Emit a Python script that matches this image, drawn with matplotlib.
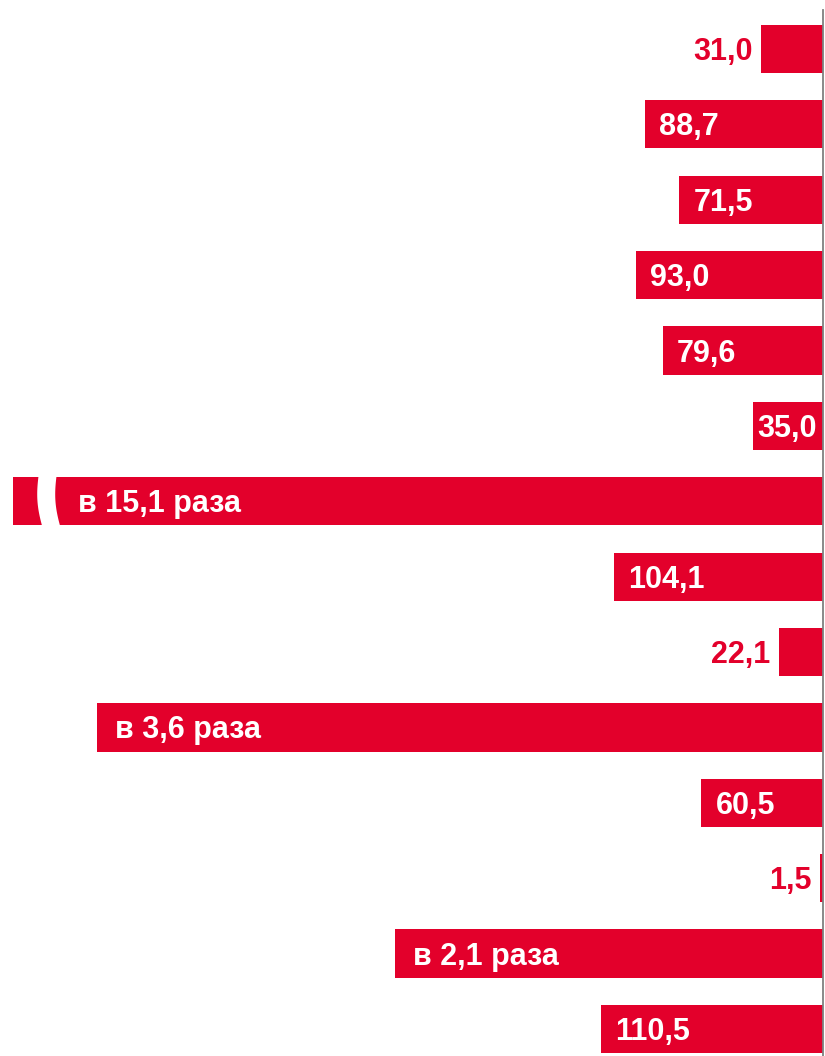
import numpy as np
import matplotlib
matplotlib.use("Agg")
import matplotlib.pyplot as plt

# Data: percent values (ratios shown as "в X раза" when >= 200 %)
values = [31.0, 88.7, 71.5, 93.0, 79.6, 35.0, 1510.0, 104.1, 22.1, 361.0, 60.5, 1.5, 213.0, 110.5]

RED = "#E3002B"
AXIS_GRAY = "#808080"

plt.rcParams['font.family'] = ['Liberation Sans', 'DejaVu Sans']

def fmt(v):
    if v >= 200:
        return "в " + f"{v/100:.1f}".replace(".", ",") + " раза"
    return f"{v:.1f}".replace(".", ",")

fig = plt.figure(figsize=(8.25, 10.56), dpi=100)
ax = fig.add_axes([0, 0, 823 / 825, 1046 / 1056])

XMAX = 409.5
CAP = 403.0
n = len(values)
ypos = np.arange(n)
disp = [min(v, CAP) for v in values]

ax.barh(ypos, disp, height=0.64, color=RED, linewidth=0)
ax.set_xlim(XMAX, 0)
ax.set_ylim(13.358, -0.517)

for s in ("top", "left", "bottom"):
    ax.spines[s].set_visible(False)
ax.spines["right"].set_color(AXIS_GRAY)
ax.spines["right"].set_linewidth(1.3)
ax.set_xticks([])
ax.set_yticks([])

FS = 22
PX = 72 / 100  # points per pixel
DY = -3 * PX
for y, v, d in zip(ypos, values, disp):
    lab = fmt(v)
    if v < 33:
        ax.annotate(lab, xy=(d, y), xytext=(-8 * PX, DY), textcoords="offset points",
                    ha="right", va="center", color=RED, fontsize=FS, fontweight="bold")
    elif v < 40:
        ax.annotate(lab, xy=(d / 2, y), xytext=(-1 * PX, DY), textcoords="offset points",
                    ha="center", va="center",
                    color="white", fontsize=FS, fontweight="bold")
    else:
        off = 14
        if v >= 200:
            off = 18
        if v > CAP:
            off = 65
        ax.annotate(lab, xy=(d, y), xytext=(off * PX, DY), textcoords="offset points",
                    ha="left", va="center", color="white", fontsize=FS, fontweight="bold")

# break mark on the truncated bar
fig.canvas.draw()
inv = ax.transData.inverted()
ax_x0 = ax.transAxes.transform((0, 0))[0]
ti = [i for i, v in enumerate(values) if v > CAP][0]
t = np.linspace(0, 1, 60)
yy = ti - 0.34 + 0.68 * t
off_px = 4 * t ** 2 - 2 * np.sin(np.pi * t)
left_px = 38 + off_px
right_px = 56 + off_px
lx = [inv.transform((ax_x0 + p, 0))[0] for p in left_px]
rx = [inv.transform((ax_x0 + p, 0))[0] for p in right_px]
ax.fill_betweenx(yy, lx, rx, color="white", linewidth=0, zorder=3)

fig.savefig("out.png", dpi=100, facecolor="white")
